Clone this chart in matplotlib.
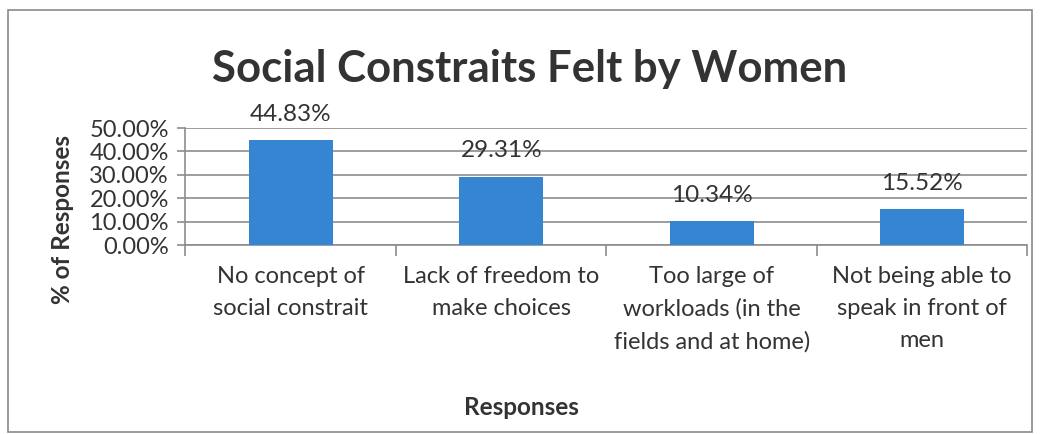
import matplotlib.pyplot as plt
from matplotlib.patches import Rectangle
from matplotlib.ticker import FuncFormatter, FixedLocator

plt.rcParams['font.family'] = ['Lato', 'DejaVu Sans']

categories = ["No concept of\nsocial constrait",
              "Lack of freedom to\nmake choices",
              "Too large of\nworkloads (in the\nfields and at home)",
              "Not being able to\nspeak in front of\nmen"]
values = [44.83, 29.31, 10.34, 15.52]
yticks = [0, 10, 20, 30, 40, 50]

text_col = '#333333'
bar_col = '#3585D2'
grid_col = '#8c8c8c'

fig = plt.figure(figsize=(10.42, 4.34), dpi=100)
fig.patches.append(Rectangle((0.008, 0.004), 0.982, 0.974, transform=fig.transFigure,
                             fill=False, edgecolor='#8a8a8a', linewidth=1.2))

ax = fig.add_axes([0.178, 0.435, 0.808, 0.27])
x = range(len(values))
ax.bar(x, values, width=0.4, color=bar_col, zorder=3)

# data labels above bars
for i, v in enumerate(values):
    ax.annotate(f"{v:.2f}%", (i, v), xytext=(0, 11), textcoords='offset points',
                ha='center', va='bottom', fontsize=17.5, color=text_col, zorder=4)

ax.set_xlim(-0.5, len(values) - 0.5)
ax.set_ylim(0, 50)
ax.set_yticks(yticks)
ax.yaxis.set_major_formatter(FuncFormatter(lambda v, p: f"{v:.2f}%"))
ax.grid(axis='y', color=grid_col, linewidth=1.2, zorder=0)

ax.set_xticks(list(x))
ax.set_xticklabels(categories, fontsize=17, color=text_col, linespacing=1.65, va='top')
ax.tick_params(axis='x', length=0, pad=15)
ax.xaxis.set_minor_locator(FixedLocator([i - 0.5 for i in range(len(values) + 1)]))
ax.tick_params(axis='x', which='minor', length=8, color=grid_col, width=1.2)
ax.tick_params(axis='y', length=6, color=grid_col, width=1.2, labelsize=17,
               labelcolor=text_col, pad=6)

for s in ['top', 'right']:
    ax.spines[s].set_visible(False)
for s in ['left', 'bottom']:
    ax.spines[s].set_color(grid_col)
    ax.spines[s].set_linewidth(1.2)

fig.text(0.06, 0.495, '% of Responses', rotation=90, ha='center', va='center',
         fontsize=17.5, fontweight='bold', color=text_col)
fig.text(0.5, 0.062, 'Responses', ha='center', va='center', fontsize=17.5,
         fontweight='bold', color=text_col)
fig.text(0.508, 0.84, 'Social Constraits Felt by Women', ha='center', va='center',
         fontsize=31.5, fontweight='bold', color=text_col)

fig.savefig('out.png', dpi=100)
